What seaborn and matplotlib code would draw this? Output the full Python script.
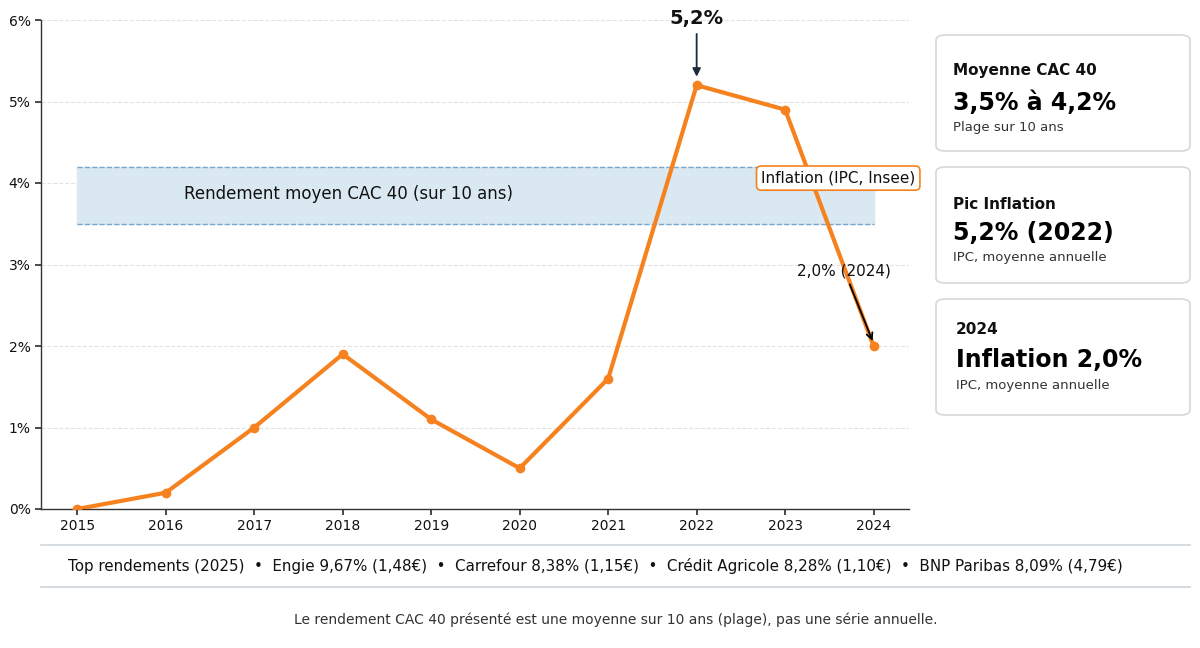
import pandas as pd
import matplotlib.pyplot as plt
import seaborn as sns
from matplotlib.patches import FancyBboxPatch
from matplotlib.lines import Line2D
from matplotlib.ticker import FuncFormatter

years = [2015, 2016, 2017, 2018, 2019, 2020, 2021, 2022, 2023, 2024]
inflation = [0.0, 0.2, 1.0, 1.9, 1.1, 0.5, 1.6, 5.2, 4.9, 2.0]
cac_low, cac_high = 3.5, 4.2

cards = [
    ('Moyenne CAC 40', '3,5% à 4,2%', 'Plage sur 10 ans'),
    ('Pic Inflation', '5,2% (2022)', 'IPC, moyenne annuelle'),
    ('2024', 'Inflation 2,0%', 'IPC, moyenne annuelle'),
]
top_yields = ['Engie 9,67% (1,48€)', 'Carrefour 8,38% (1,15€)',
              'Crédit Agricole 8,28% (1,10€)', 'BNP Paribas 8,09% (4,79€)']

ORANGE = '#f5821f'


def generate_plot(df):
    sns.set_theme(style='white')
    plt.rcParams['font.family'] = ['DejaVu Sans']
    W, H = 1200, 648
    fig = plt.figure(figsize=(12, 6.48), dpi=100)
    ax = fig.add_axes([41 / W, 1 - 509 / H, (909 - 41) / W, (509 - 20) / H])

    # CAC 40 band
    ax.fill_between([years[0], years[-1]], cac_low, cac_high, color='#dae8f1', zorder=1)
    for v in (cac_low, cac_high):
        ax.plot([years[0], years[-1]], [v, v], ls='--', color='#7aa6cc', lw=1, zorder=2)
    ax.text(2018.06, 3.86, 'Rendement moyen CAC 40 (sur 10 ans)', ha='center', va='center',
            fontsize=12, color='#111111', zorder=3)

    sns.lineplot(data=df, x='year', y='inflation', ax=ax, color=ORANGE, lw=3,
                 marker='o', markersize=7, markeredgewidth=0, zorder=4)

    ax.set_xlim(2014.59, 2024.4)
    ax.set_ylim(0, 6)
    ax.set_xticks(years)
    ax.set_yticks(range(0, 7))
    ax.yaxis.set_major_formatter(FuncFormatter(lambda v, _: f'{v:.0f}%'))
    ax.set_xlabel('')
    ax.set_ylabel('')
    ax.tick_params(axis='both', labelsize=10, length=4, color='#333333', labelcolor='#111111',
                   left=True, bottom=True)
    for s in ('top', 'right'):
        ax.spines[s].set_visible(False)
    for s in ('left', 'bottom'):
        ax.spines[s].set_color('#333333')
        ax.spines[s].set_linewidth(1)
    ax.yaxis.grid(True, ls='--', color='#e3e3e3', lw=0.8)
    ax.set_axisbelow(True)

    # annotations
    ax.annotate('5,2%', xy=(2022, 5.27), xytext=(2022, 6.02), ha='center', va='center',
                fontsize=14, fontweight='bold', color='#111111', annotation_clip=False,
                arrowprops=dict(arrowstyle='-|>', color='#1c2a3a', lw=1.3,
                                facecolor='#4a7fb5', mutation_scale=12))
    ax.text(2023.6, 4.06, 'Inflation (IPC, Insee)', ha='center', va='center', fontsize=11,
            color='#111111',
            bbox=dict(boxstyle='round,pad=0.3', fc='white', ec=ORANGE, lw=1.2), zorder=5)
    ax.annotate('2,0% (2024)', xy=(2024, 2.03), xytext=(2023.67, 2.92), ha='center',
                va='center', fontsize=11, color='#111111',
                arrowprops=dict(arrowstyle='->', color='black', lw=1.3), zorder=5)

    # cards
    boxes = [(35, 151), (167, 283), (299, 415)]
    offsets = [(953, 35, 68, 92), (953, 37, 66, 91), (956, 31, 61, 86)]
    for (t, b), (x0, o1, o2, o3), (title, big, sub) in zip(boxes, offsets, cards):
        fig.patches.append(FancyBboxPatch((936 / W, 1 - b / H), (1190 - 936) / W, (b - t) / H,
                                          boxstyle='round,pad=0,rounding_size=0.008',
                                          transform=fig.transFigure, fc='white',
                                          ec='#d3d8dc', lw=1.2))
        fig.text(x0 / W, 1 - (t + o1) / H, title, fontsize=11, fontweight='bold',
                 va='center', ha='left', color='#111111')
        fig.text(x0 / W, 1 - (t + o2) / H, big, fontsize=17, fontweight='bold',
                 va='center', ha='left', color='black')
        fig.text(x0 / W, 1 - (t + o3) / H, sub, fontsize=9.5, va='center', ha='left',
                 color='#333333')

    # footer
    for y in (545, 587):
        fig.add_artist(Line2D([41 / W, 1190 / W], [1 - y / H] * 2, color='#d5dde2', lw=1.5))
    fig.text(595 / W, 1 - 566 / H, '  •  '.join(['Top rendements (2025)'] + top_yields),
             ha='center', va='center', fontsize=10.9, color='#111111')
    fig.text(616 / W, 1 - 620 / H,
             'Le rendement CAC 40 présenté est une moyenne sur 10 ans (plage), pas une série annuelle.',
             ha='center', va='center', fontsize=10, color='#333333')

    fig.savefig('out.png', dpi=100)


def main():
    df = pd.DataFrame({'year': years, 'inflation': inflation})
    generate_plot(df)


if __name__ == '__main__':
    main()
